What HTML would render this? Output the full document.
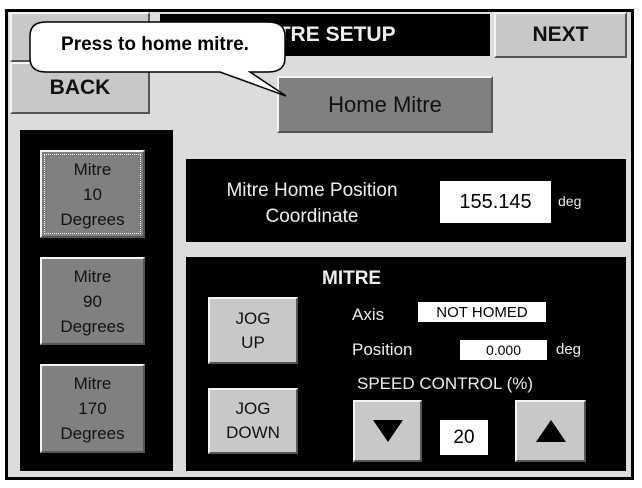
<!DOCTYPE html>
<html><head><style>
body{margin:0;width:642px;height:488px;background:#fff;position:relative;font-family:"Liberation Sans",sans-serif;overflow:hidden}
.a{position:absolute;box-sizing:border-box}
.blk{background:#000}
.btn{background:#c8c8c8;border:2px solid;border-color:#f4f4f4 #555 #555 #f4f4f4;display:flex;align-items:center;justify-content:center;text-align:center;color:#111}
.dk{background:#808080}
.w{color:#eee}
.box{background:#fff;color:#000;display:flex;align-items:center;justify-content:center}
</style></head><body>
<div class="a" style="left:5px;top:9px;width:629px;height:471px;background:#000"></div>
<div class="a" style="left:8px;top:12px;width:623px;height:465px;background:#dcdcdc"></div>
<div class="a btn" style="left:10px;top:12px;width:140px;height:50px"></div>
<div class="a blk w" style="left:160px;top:14px;width:330px;height:42px;font-size:21px;font-weight:bold;display:flex;align-items:center;justify-content:center">MITRE SETUP</div>
<div class="a btn" style="left:494px;top:12px;width:133px;height:46px;font-size:21px;font-weight:bold">NEXT</div>
<div class="a btn" style="left:10px;top:62px;width:140px;height:52px;font-size:21px;font-weight:bold">BACK</div>
<div class="a btn dk" style="left:277px;top:76px;width:216px;height:57px;font-size:22px">Home Mitre</div>
<svg class="a" style="left:0;top:0" width="642" height="488">
<path d="M46,22 L268,22 Q285,22 285,36 L285,58 Q285,72 268,72 L250,72 L286,96 L220,72 L46,72 Q30,72 30,58 L30,36 Q30,22 46,22 Z" fill="#fff" stroke="#000" stroke-width="1.5"/>
</svg>
<div class="a" style="left:30px;top:34px;width:250px;font-size:19px;font-weight:bold;text-align:center">Press to home mitre.</div>
<div class="a blk" style="left:20px;top:130px;width:153px;height:341px"></div>
<div class="a btn dk" style="left:40px;top:150px;width:105px;height:88px;font-size:17px;line-height:25px;outline:1px dotted #fff;outline-offset:-5px">Mitre<br>10<br>Degrees</div>
<div class="a btn dk" style="left:40px;top:257px;width:105px;height:88px;font-size:17px;line-height:25px">Mitre<br>90<br>Degrees</div>
<div class="a btn dk" style="left:40px;top:364px;width:105px;height:89px;font-size:17px;line-height:25px">Mitre<br>170<br>Degrees</div>
<div class="a blk" style="left:186px;top:159px;width:440px;height:83px"></div>
<div class="a w" style="left:196px;top:178px;width:232px;text-align:center;font-size:19px;line-height:26px">Mitre Home Position<br>Coordinate</div>
<div class="a box" style="left:440px;top:181px;width:111px;height:42px;font-size:20px">155.145</div>
<div class="a w" style="left:558px;top:193px;font-size:14px">deg</div>
<div class="a blk" style="left:186px;top:257px;width:440px;height:214px"></div>
<div class="a w" style="left:322px;top:268px;font-size:19px;font-weight:bold">MITRE</div>
<div class="a btn" style="left:208px;top:297px;width:90px;height:67px;font-size:17px;line-height:24px">JOG<br>UP</div>
<div class="a btn" style="left:208px;top:388px;width:90px;height:66px;font-size:17px;line-height:24px">JOG<br>DOWN</div>
<div class="a w" style="left:352px;top:305px;font-size:17px">Axis</div>
<div class="a box" style="left:418px;top:302px;width:128px;height:20px;font-size:15px">NOT HOMED</div>
<div class="a w" style="left:352px;top:340px;font-size:17px">Position</div>
<div class="a box" style="left:460px;top:340px;width:87px;height:20px;font-size:14px">0.000</div>
<div class="a w" style="left:556px;top:341px;font-size:15px">deg</div>
<div class="a w" style="left:357px;top:374px;font-size:17px">SPEED CONTROL (%)</div>
<div class="a btn" style="left:353px;top:400px;width:69px;height:62px"><div style="width:0;height:0;border-left:15px solid transparent;border-right:15px solid transparent;border-top:22px solid #000"></div></div>
<div class="a box" style="left:440px;top:420px;width:48px;height:35px;font-size:19px">20</div>
<div class="a btn" style="left:515px;top:400px;width:71px;height:62px"><div style="width:0;height:0;border-left:15px solid transparent;border-right:15px solid transparent;border-bottom:22px solid #000"></div></div>
</body></html>
